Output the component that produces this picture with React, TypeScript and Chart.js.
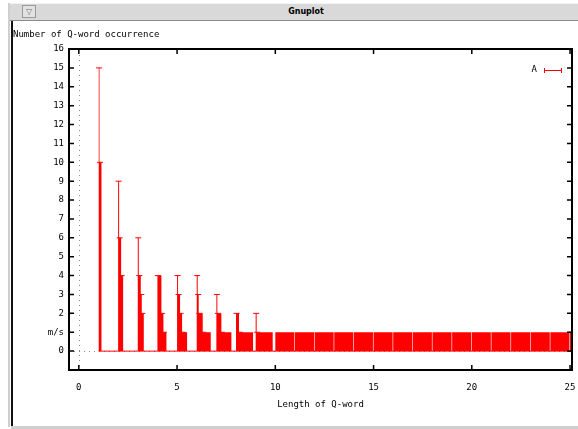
import React, { useEffect, useRef } from 'react';
import { Chart, registerables } from 'chart.js';

Chart.register(...registerables);

// ---- data ----
const lengths = [1, 2, 3, 4, 5, 6, 7, 8, 9, 10, 11, 12, 13, 14, 15, 16, 17, 18, 19, 20, 21, 22, 23, 24, 25];
// occurrence step heights for each Q-word length (descending staircase)
const stepHeights: number[][] = [
  [15, 10],
  [9, 6, 4],
  [6, 4, 3, 2],
  [4, 2, 1],
  [4, 3, 2, 1],
  [4, 3, 2, 1],
  [3, 2, 1],
  [2, 1],
  [2, 1],
  [1], [1], [1], [1], [1], [1], [1], [1], [1], [1], [1], [1], [1], [1], [1],
  [1],
];
// number of sub-columns each step spans
const stepColumns: number[][] = [
  [1, 2],
  [1, 2, 2],
  [1, 2, 1, 2],
  [4, 2, 3],
  [1, 2, 2, 5],
  [1, 1, 4, 8],
  [1, 4, 10],
  [3, 14],
  [1, 16],
  [19], [19], [19], [19], [19], [19], [19], [19], [19], [19], [19], [19], [19], [19], [19],
  [1],
];
const columnWidth = 0.051;
const xTicks = [0, 5, 10, 15, 20, 25];
const yTicks = [0, 1, 2, 3, 4, 5, 6, 7, 8, 9, 10, 11, 12, 13, 14, 15, 16];
const yTickLabels = ['0', 'm/s', '2', '3', '4', '5', '6', '7', '8', '9', '10', '11', '12', '13', '14', '15', '16'];
const seriesLabel = 'A';
const xTitle = 'Length of Q-word';
const yTitle = 'Number of Q-word occurrence';
const windowTitle = 'Gnuplot';
const xMin = -0.5;
const xMax = 25.1;
const yMin = -1;
const yMax = 16;

const RED = '#ff0000';
const FONT = "'DejaVu Sans Mono', monospace";

function buildSeries() {
  const fillPoints: { x: number; y: number }[] = [];
  const capPoints: { x: number; y: number }[] = [];
  lengths.forEach((n, i) => {
    let x = n;
    stepHeights[i].forEach((h, j) => {
      fillPoints.push({ x, y: h });
      if (n < 10 || n === lengths[lengths.length - 1]) capPoints.push({ x: x + columnWidth / 2, y: h });
      x += stepColumns[i][j] * columnWidth;
    });
    fillPoints.push({ x, y: 0 });
  });
  const last = lengths[lengths.length - 1];
  capPoints.push({ x: last + columnWidth / 2, y: 0 });
  return { fillPoints, capPoints };
}

const framePlugin = {
  id: 'gnuframe',
  beforeDatasetsDraw(chart: any) {
    // gnuplot zero axes (dotted)
    const { ctx, chartArea } = chart;
    const { left, right, top, bottom } = chartArea;
    const xs = chart.scales.x;
    const ys = chart.scales.y;
    const x0 = Math.round(xs.getPixelForValue(0)) + 0.5;
    const y0 = Math.round(ys.getPixelForValue(0)) + 0.5;
    ctx.save();
    ctx.strokeStyle = '#8a8a8a';
    ctx.lineWidth = 1;
    ctx.setLineDash([1, 4]);
    ctx.beginPath();
    ctx.moveTo(x0, top + 6);
    ctx.lineTo(x0, bottom);
    ctx.moveTo(left + 5, y0);
    ctx.lineTo(right, y0);
    ctx.stroke();
    ctx.restore();
  },
  afterDatasetsDraw(chart: any) {
    const { ctx, chartArea } = chart;
    const { left, right, top, bottom } = chartArea;
    const xs = chart.scales.x;
    const ys = chart.scales.y;
    ctx.save();
    ctx.strokeStyle = '#000';
    ctx.lineWidth = 2;
    ctx.strokeRect(left, top, right - left, bottom - top);
    ctx.lineWidth = 1.5;
    ctx.beginPath();
    yTicks.forEach((v) => {
      const py = ys.getPixelForValue(v);
      ctx.moveTo(left, py);
      ctx.lineTo(left + 5, py);
      ctx.moveTo(right, py);
      ctx.lineTo(right - 5, py);
    });
    xTicks.forEach((v) => {
      const px = xs.getPixelForValue(v);
      ctx.moveTo(px, bottom);
      ctx.lineTo(px, bottom - 5);
      ctx.moveTo(px, top);
      ctx.lineTo(px, top + 5);
    });
    ctx.stroke();
    ctx.restore();
  },
  afterDraw(chart: any) {
    const { ctx, chartArea } = chart;
    ctx.save();
    ctx.fillStyle = '#000';
    ctx.font = `9px ${FONT}`;
    ctx.textBaseline = 'alphabetic';
    ctx.textAlign = 'left';
    ctx.fillText(yTitle, 13, 37);
    ctx.textAlign = 'center';
    ctx.fillText(xTitle, (chartArea.left + chartArea.right) / 2, 407);
    // key
    ctx.textAlign = 'right';
    ctx.textBaseline = 'middle';
    ctx.fillText(seriesLabel, 537, 70);
    ctx.strokeStyle = RED;
    ctx.lineWidth = 1;
    ctx.beginPath();
    ctx.moveTo(544, 70.5);
    ctx.lineTo(562, 70.5);
    ctx.moveTo(544.5, 68);
    ctx.lineTo(544.5, 73);
    ctx.moveTo(561.5, 68);
    ctx.lineTo(561.5, 73);
    ctx.stroke();
    ctx.restore();
  },
};

function GnuplotChart() {
  const ref = useRef<HTMLCanvasElement>(null);
  useEffect(() => {
    if (!ref.current) return;
    const { fillPoints, capPoints } = buildSeries();
    const chart = new Chart(ref.current, {
      type: 'scatter',
      data: {
        datasets: [
          {
            type: 'scatter',
            label: 'caps',
            data: capPoints,
            pointStyle: 'line',
            pointRadius: 3,
            borderColor: RED,
            backgroundColor: RED,
            borderWidth: 1,
          } as any,
          {
            type: 'line',
            label: 'baseline',
            data: [{ x: lengths[0], y: 0 }, { x: xMax, y: 0 }],
            borderColor: RED,
            borderWidth: 1,
            pointRadius: 0,
            fill: false,
          } as any,
          {
            type: 'line',
            label: seriesLabel,
            data: fillPoints,
            stepped: 'before',
            fill: 'origin',
            backgroundColor: RED,
            borderColor: 'rgba(0,0,0,0)',
            borderWidth: 0,
            pointRadius: 0,
          } as any,
        ],
      },
      options: {
        animation: false,
        responsive: false,
        maintainAspectRatio: false,
        devicePixelRatio: 1,
        events: [],
        layout: { padding: { top: 49, right: 6, left: 0, bottom: 0 } },
        plugins: {
          legend: { display: false },
          tooltip: { enabled: false },
          title: { display: false },
        },
        scales: {
          x: {
            type: 'linear',
            min: xMin,
            max: xMax,
            afterBuildTicks: (s: any) => {
              s.ticks = xTicks.map((v) => ({ value: v }));
            },
            afterFit: (s: any) => {
              s.height = 59;
              s.paddingLeft = 0;
              s.paddingRight = 0;
            },
            ticks: {
              color: '#000',
              font: { family: FONT, size: 9 },
              padding: 12,
              maxRotation: 0,
              autoSkip: false,
              callback: (v: any) => String(v),
            },
            grid: { display: false, drawTicks: false },
            border: { display: false },
          },
          y: {
            type: 'linear',
            min: yMin,
            max: yMax,
            afterBuildTicks: (s: any) => {
              s.ticks = yTicks.map((v) => ({ value: v }));
            },
            afterFit: (s: any) => {
              s.width = 69;
              s.paddingTop = 0;
              s.paddingBottom = 0;
            },
            ticks: {
              color: '#000',
              font: { family: FONT, size: 9 },
              padding: 5,
              autoSkip: false,
              callback: (v: any) => {
                const i = yTicks.indexOf(Number(v));
                return i >= 0 ? yTickLabels[i] : '';
              },
            },
            grid: { display: false, drawTicks: false },
            border: { display: false },
          },
        },
      },
      plugins: [framePlugin],
    });
    return () => chart.destroy();
  }, []);
  return (
    <canvas
      ref={ref}
      width={578}
      height={429}
      style={{ position: 'absolute', left: 0, top: 0, width: 578, height: 429 }}
    />
  );
}

export default function App() {
  return (
    <div
      style={{
        position: 'fixed',
        left: 0,
        top: 0,
        width: 578,
        height: 429,
        background: '#fff',
        overflow: 'hidden',
      }}
    >
      <GnuplotChart />
      {/* window chrome */}
      <div
        style={{
          position: 'absolute',
          left: 9,
          top: 3,
          width: 569,
          height: 18,
          background: '#d9d9d9',
          borderTop: '1px solid #f4f4f4',
          borderLeft: '1px solid #f4f4f4',
          borderBottom: '1px solid #8c8c8c',
          boxSizing: 'border-box',
        }}
      />
      <div
        style={{
          position: 'absolute',
          left: 22,
          top: 5,
          width: 14,
          height: 13,
          border: '1px solid #9a9a9a',
          background: '#e2e2e2',
          boxSizing: 'border-box',
          fontSize: 8,
          lineHeight: '11px',
          textAlign: 'center',
          color: '#777',
          fontFamily: "'DejaVu Sans', sans-serif",
        }}
      >
        ▽
      </div>
      <div
        style={{
          position: 'absolute',
          left: 256,
          top: 5,
          width: 100,
          height: 14,
          textAlign: 'center',
          fontFamily: "'DejaVu Sans', sans-serif",
          fontWeight: 'bold',
          fontSize: 8,
          lineHeight: '14px',
          color: '#000',
        }}
      >
        {windowTitle}
      </div>
      <div style={{ position: 'absolute', left: 11, top: 21, width: 2, height: 405, background: '#111' }} />
      <div style={{ position: 'absolute', left: 8, top: 3, width: 2, height: 424, background: '#cfcfcf' }} />
      <div style={{ position: 'absolute', left: 11, top: 426, width: 567, height: 3, background: '#cfcfcf' }} />
    </div>
  );
}
